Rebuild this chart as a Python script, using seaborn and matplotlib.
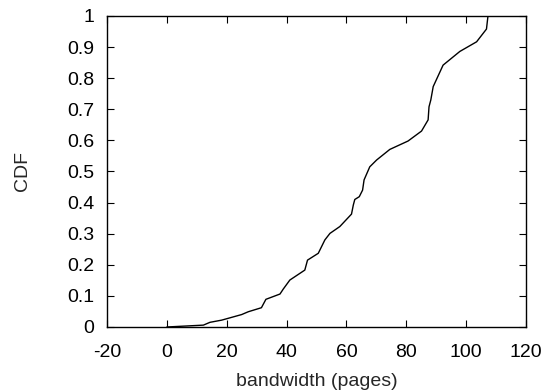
import matplotlib
matplotlib.use("Agg")
import matplotlib.pyplot as plt
import seaborn as sns
import pandas as pd

# CDF of bandwidth
bandwidth = [0, 12.2, 14.4, 18.3, 25.0, 27.2, 31.6, 33.1, 37.8, 38.9, 41.1,
             46.1, 47.0, 50.6, 52.8, 54.5, 57.8, 61.7, 62.3, 62.8, 64.3, 65.4,
             65.9, 67.8, 70.1, 74.5, 80.6, 85.1, 87.3, 87.6, 88.2, 89.0, 92.3,
             97.9, 103.5, 106.8, 107.3]
cdf = [0, 0.006, 0.015, 0.022, 0.040, 0.049, 0.062, 0.089, 0.106, 0.122, 0.151,
       0.183, 0.215, 0.237, 0.280, 0.301, 0.323, 0.363, 0.392, 0.410, 0.419, 0.440,
       0.473, 0.515, 0.537, 0.571, 0.598, 0.630, 0.666, 0.708, 0.730, 0.773, 0.842,
       0.886, 0.917, 0.958, 1.0]

xticks = [-20, 0, 20, 40, 60, 80, 100, 120]
yticks = [0, 0.1, 0.2, 0.3, 0.4, 0.5, 0.6, 0.7, 0.8, 0.9, 1]
ytick_labels = ['0', '0.1', '0.2', '0.3', '0.4', '0.5', '0.6', '0.7', '0.8', '0.9', '1']

sns.set_style('ticks')
plt.rcParams['font.family'] = ['Liberation Sans', 'DejaVu Sans']
plt.rcParams['font.size'] = 14

df = pd.DataFrame({'bandwidth': bandwidth, 'cdf': cdf})

fig = plt.figure(figsize=(5.55, 3.91), dpi=100)
ax = fig.add_axes([0.1928, 0.1637, 0.7549, 0.7954])
sns.lineplot(data=df, x='bandwidth', y='cdf', color='black', lw=1,
             sort=False, estimator=None, ax=ax)

ax.set_xlim(-20, 120)
ax.set_ylim(0, 1)
ax.set_xticks(xticks)
ax.set_xticklabels([str(t) for t in xticks])
ax.set_yticks(yticks)
ax.set_yticklabels(ytick_labels)
ax.set_xlabel('bandwidth (pages)', fontsize=14, labelpad=9)
ax.set_ylabel('CDF', fontsize=14, labelpad=26)
ax.tick_params(direction='in', length=5, width=0.8, top=True, right=True,
               colors='black', labelsize=14)
ax.tick_params(axis='x', pad=12)
ax.tick_params(axis='y', pad=9)
for s in ax.spines.values():
    s.set_visible(True)
    s.set_linewidth(1.0)
    s.set_color('black')

fig.savefig('out.png', dpi=100)
